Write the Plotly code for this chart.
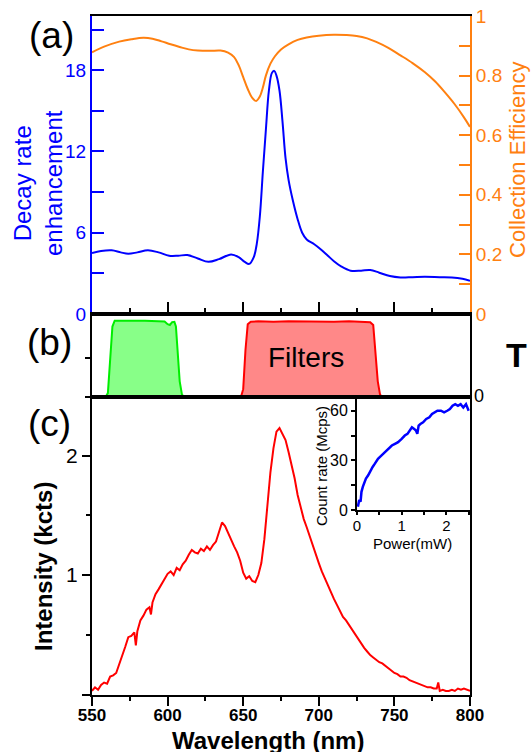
import plotly.graph_objects as go

# ---------------- data ----------------
# (a) decay-rate enhancement (left axis) and collection efficiency (right axis)
decay_wl = [550, 556, 563, 569, 574, 580, 587, 594, 601, 607, 613, 620, 627, 634, 642, 647, 651, 654,
            657, 659, 661, 663, 665, 667, 669, 670.5, 672, 674, 676, 678, 680, 683, 686, 689, 692, 697,
            701, 706, 710, 715, 721, 728, 734, 740, 747, 754, 762, 770, 780, 788, 795, 800]
decay_val = [4.5, 4.65, 4.7, 4.55, 4.45, 4.55, 4.7, 4.55, 4.3, 4.3, 4.35, 4.1, 3.85, 4.05, 4.4, 4.2, 3.85, 3.7,
             4.2, 5.2, 7.2, 10.5, 13.6, 16.5, 17.8, 17.95, 17.6, 16.5, 14.2, 11.5, 9.9, 8.3, 7.0, 6.0, 5.5, 5.15,
             4.8, 4.3, 3.9, 3.5, 3.2, 3.2, 3.25, 3.05, 2.8, 2.7, 2.72, 2.75, 2.72, 2.7, 2.6, 2.45]

coll_wl = [550, 558, 568, 576, 584, 590, 596, 602, 608, 614, 620, 628, 635, 640, 644, 647, 650, 653, 656,
           658.5, 661, 663, 665, 668, 671, 675, 680, 686, 692, 700, 710, 718, 725, 732, 738, 746, 754, 762,
           770, 777, 783, 790, 796, 800]
coll_val = [0.878, 0.897, 0.914, 0.922, 0.927, 0.924, 0.915, 0.905, 0.896, 0.888, 0.884, 0.883, 0.884, 0.877,
            0.862, 0.835, 0.795, 0.755, 0.725, 0.715, 0.73, 0.76, 0.8, 0.84, 0.865, 0.888, 0.905, 0.92, 0.928,
            0.934, 0.937, 0.936, 0.933, 0.925, 0.913, 0.893, 0.868, 0.842, 0.812, 0.78, 0.746, 0.703, 0.66, 0.628]

# (b) filter transmission
green_wl = [550, 559, 560.5, 562, 563.5, 565, 570, 575, 580, 585, 590, 595, 598, 600, 601.5, 603, 604.5,
            605.5, 606.5, 608, 609.5, 611, 800]
green_T = [0, 0, 0.05, 0.45, 0.9, 0.975, 0.972, 0.976, 0.973, 0.975, 0.972, 0.974, 0.965, 0.93, 0.92, 0.955,
           0.96, 0.9, 0.6, 0.2, 0.03, 0, 0]
red_wl = [550, 648.5, 650, 651.5, 653, 655, 660, 670, 680, 690, 700, 710, 720, 730, 734, 736, 737.5, 739,
          740.5, 742, 800]
red_T = [0, 0, 0.1, 0.6, 0.93, 0.962, 0.967, 0.962, 0.968, 0.963, 0.966, 0.962, 0.967, 0.962, 0.955, 0.92,
         0.6, 0.2, 0.03, 0, 0]

# (c) emission spectrum
spec_wl = [550, 552, 554, 556, 558, 560, 562, 564, 566, 568, 570, 572, 574, 576, 578, 579, 580, 582, 584, 586,
           588, 589, 590, 592, 594, 596, 598, 600, 602, 604, 606, 608, 610, 612, 614, 616, 618, 620, 622, 624,
           626, 628, 630, 632, 634, 636, 638, 640, 642, 644, 646, 648, 650, 652, 654, 656, 658, 660, 662, 664,
           666, 668, 670, 672, 674, 676, 678, 680, 682, 684, 686, 688, 690, 692, 694, 696, 698, 700, 702, 704,
           706, 708, 710, 712, 714, 716, 718, 720, 722, 724, 726, 728, 730, 732, 734, 736, 738, 740, 742, 744,
           746, 748, 750, 752, 754, 756, 758, 760, 762, 764, 766, 768, 770, 772, 774, 776, 778, 779, 780, 782,
           784, 786, 788, 790, 792, 794, 796, 798, 800]
spec_val = [0.03, 0.06, 0.04, 0.08, 0.1, 0.09, 0.15, 0.16, 0.18, 0.25, 0.32, 0.4, 0.48, 0.49, 0.52, 0.41, 0.53,
            0.62, 0.66, 0.71, 0.73, 0.67, 0.77, 0.84, 0.88, 0.92, 0.97, 1.01, 1.03, 1.0, 1.06, 1.04, 1.09, 1.12,
            1.17, 1.21, 1.19, 1.18, 1.22, 1.2, 1.24, 1.21, 1.25, 1.28, 1.36, 1.44, 1.41, 1.35, 1.3, 1.24, 1.19,
            1.12, 1.02, 0.97, 0.99, 0.95, 0.94, 1.0, 1.1, 1.3, 1.58, 1.86, 2.06, 2.2, 2.23, 2.18, 2.13, 2.03,
            1.93, 1.81, 1.67, 1.56, 1.47, 1.4, 1.32, 1.25, 1.17, 1.1, 1.03, 0.97, 0.92, 0.86, 0.8, 0.75, 0.7,
            0.65, 0.62, 0.58, 0.55, 0.5, 0.46, 0.42, 0.39, 0.36, 0.33, 0.31, 0.29, 0.27, 0.26, 0.24, 0.22, 0.2,
            0.18, 0.17, 0.15, 0.15, 0.14, 0.12, 0.11, 0.1, 0.09, 0.08, 0.07, 0.06, 0.06, 0.05, 0.05, 0.1, 0.03,
            0.04, 0.03, 0.03, 0.04, 0.03, 0.05, 0.04, 0.05, 0.04, 0.03]

# inset: count rate vs power
power_mw = [0.02, 0.05, 0.08, 0.1, 0.13, 0.17, 0.2, 0.25, 0.3, 0.35, 0.4, 0.47, 0.55, 0.62, 0.7, 0.78, 0.85,
            0.92, 1.0, 1.07, 1.13, 1.18, 1.23, 1.28, 1.32, 1.35, 1.38, 1.42, 1.48, 1.55, 1.62, 1.68, 1.74, 1.8,
            1.88, 1.95, 2.02, 2.08, 2.14, 2.2, 2.26, 2.32, 2.38, 2.44, 2.5]
count_mcps = [2, 6, 5, 11, 14, 17, 19, 21, 24, 26, 28, 31, 33, 35, 37, 39, 40, 41, 43, 45, 46, 48, 50, 49, 48,
              46, 51, 52, 53, 55, 56, 58, 59, 60, 60, 59, 60, 61, 63, 64, 63, 64, 62, 64, 60]

decay_ticks = [0, 3, 6, 9, 12, 15, 18, 21]
decay_ticktext = ['0', '', '6', '', '12', '', '18', '']
coll_ticks = [0, 0.1, 0.2, 0.3, 0.4, 0.5, 0.6, 0.7, 0.8, 0.9, 1.0]
coll_ticktext = ['0', '', '0.2', '', '0.4', '', '0.6', '', '0.8', '', '1']

# ---------------- style ----------------
W, H = 531, 752
FONT = "Liberation Sans, Arial, sans-serif"
BLUE = "#0000FF"
ORANGE = "#FF8010"
BLACK = "#000000"


def px(x):
    return x / W


def py(y):
    return 1 - y / H


XDOM = [px(92), px(470)]
YA = [py(314), py(16)]
YB = [py(397), py(314)]
YC = [py(694.5), py(397)]
XIN = [px(357), px(470)]
YIN = [py(510), py(397)]

fig = go.Figure()

fig.add_trace(go.Scatter(x=decay_wl, y=decay_val, mode="lines", line=dict(color=BLUE, width=2, shape="spline"),
                         xaxis="x", yaxis="y", showlegend=False))
fig.add_trace(go.Scatter(x=coll_wl, y=coll_val, mode="lines", line=dict(color=ORANGE, width=2, shape="spline"),
                         xaxis="x", yaxis="y2", showlegend=False))
fig.add_trace(go.Scatter(x=green_wl, y=green_T, mode="lines", fill="tozeroy", fillcolor="#88FF88",
                         line=dict(color="#00EE00", width=2), xaxis="x2", yaxis="y3", showlegend=False))
fig.add_trace(go.Scatter(x=red_wl, y=red_T, mode="lines", fill="tozeroy", fillcolor="#FF8888",
                         line=dict(color="#FF0000", width=2), xaxis="x2", yaxis="y3", showlegend=False))
fig.add_trace(go.Scatter(x=spec_wl, y=spec_val, mode="lines", line=dict(color="#FF0000", width=2),
                         xaxis="x3", yaxis="y4", showlegend=False))
fig.add_trace(go.Scatter(x=power_mw, y=count_mcps, mode="lines", line=dict(color=BLUE, width=2.5),
                         xaxis="x4", yaxis="y5", showlegend=False))

common = dict(showgrid=False, zeroline=False, automargin=False, ticklabeloverflow="allow")

fig.update_layout(
    width=W, height=H,
    margin=dict(l=0, r=0, t=0, b=0, pad=0, autoexpand=False),
    paper_bgcolor="white", plot_bgcolor="rgba(0,0,0,0)",
    font=dict(family=FONT, color=BLACK),
    # panel (a)
    xaxis=dict(domain=XDOM, anchor="y", range=[550, 800], **common,
               showline=True, linecolor=BLACK, linewidth=2, mirror=True,
               tick0=550, dtick=50, ticks="inside", ticklen=12, tickwidth=2, tickcolor=BLACK,
               minor=dict(dtick=25, tick0=550, ticks="inside", ticklen=6, tickwidth=2, tickcolor=BLACK),
               showticklabels=False),
    yaxis=dict(domain=YA, anchor="x", range=[0, 22], **common,
               showline=True, linecolor=BLUE, linewidth=2,
               tickvals=decay_ticks, ticktext=decay_ticktext, ticks="inside", ticklen=12, tickwidth=2,
               tickcolor=BLUE, tickfont=dict(size=19, color=BLUE, family=FONT)),
    yaxis2=dict(overlaying="y", side="right", anchor="x", range=[0, 1], **common,
                showline=True, linecolor=ORANGE, linewidth=2,
                tickvals=coll_ticks, ticktext=coll_ticktext, ticks="inside", ticklen=11, tickwidth=2,
                tickcolor=ORANGE, tickfont=dict(size=19, color=ORANGE, family=FONT)),
    # panel (b)
    xaxis2=dict(domain=XDOM, anchor="y3", range=[550, 800], **common,
                showline=True, linecolor=BLACK, linewidth=2, mirror=True, ticks="", showticklabels=False),
    yaxis3=dict(domain=YB, anchor="x2", range=[0, 1.06], **common,
                showline=True, linecolor=BLACK, linewidth=2, mirror=True,
                tickvals=[0, 0.5], ticks="outside", ticklen=5, tickwidth=2, tickcolor=BLACK,
                showticklabels=False),
    # panel (c)
    xaxis3=dict(domain=XDOM, anchor="y4", range=[550, 800], **common,
                showline=True, linecolor=BLACK, linewidth=2, mirror=True,
                tick0=550, dtick=50, ticks="outside", ticklen=9, tickwidth=2, tickcolor=BLACK,
                minor=dict(dtick=25, tick0=550, ticks="outside", ticklen=4, tickwidth=2, tickcolor=BLACK),
                ticklabelstandoff=-5,
                tickfont=dict(size=17, color=BLACK, family=FONT, weight="bold")),
    yaxis4=dict(domain=YC, anchor="x3", range=[0, 2.49], **common,
                showline=True, linecolor=BLACK, linewidth=2, mirror=True,
                tickvals=[0, 1, 2], ticktext=["", "1", "2"], ticks="outside", ticklen=8, tickwidth=2,
                tickcolor=BLACK,
                minor=dict(tickvals=[0.5, 1.5], ticks="outside", ticklen=4, tickwidth=2, tickcolor=BLACK),
                tickfont=dict(size=21, color=BLACK, family=FONT)),
    # inset
    xaxis4=dict(domain=XIN, anchor="y5", range=[0, 2.53], **common,
                showline=True, linecolor=BLACK, linewidth=2,
                tickvals=[0, 1, 2], ticks="outside", ticklen=3, tickwidth=2, tickcolor=BLACK,
                minor=dict(tickvals=[0.5, 1.5, 2.5], ticks="outside", ticklen=3, tickwidth=2, tickcolor=BLACK),
                ticklabelstandoff=-2,
                tickfont=dict(size=15, color=BLACK, family=FONT)),
    yaxis5=dict(domain=YIN, anchor="x4", range=[0, 68.3], **common,
                showline=True, linecolor=BLACK, linewidth=2,
                tickvals=[0, 30, 60], ticks="outside", ticklen=4, tickwidth=2, tickcolor=BLACK,
                minor=dict(tickvals=[15, 45], ticks="outside", ticklen=4, tickwidth=2, tickcolor=BLACK),
                tickfont=dict(size=16, color=BLACK, family=FONT)),
)


def ann(text, x, y, size, color=BLACK, angle=0, bold=False):
    fig.add_annotation(text=text, x=px(x), y=py(y), xref="paper", yref="paper", showarrow=False,
                       xanchor="center", yanchor="middle", textangle=angle,
                       font=dict(family=FONT, size=size, color=color, weight="bold" if bold else "normal"))


ann("(a)", 51, 36, 37)
ann("(b)", 49, 342, 37)
ann("(c)", 49, 423, 37)
ann("Decay rate<br>enhancement", 38, 183, 24, BLUE, angle=-90)
ann("Collection Efficiency", 518, 160, 22, ORANGE, angle=-90)
ann("Filters", 306, 357, 28)
ann("T", 516, 355, 34, bold=True)
ann("0", 479, 396, 18)
ann("Intensity (kcts)", 43, 567, 24, angle=-90, bold=True)
ann("Wavelength (nm)", 268, 740, 24, bold=True)
ann("Count rate (Mcps)", 321, 466, 15, angle=-90)
ann("Power(mW)", 412, 543, 15)

# place the figure at the window's top-left corner (remove the default 8px page margin)
fig.write_html("out.html", config={"displayModeBar": False},
               post_script="document.body.style.margin='0';document.body.style.overflow='hidden';")
